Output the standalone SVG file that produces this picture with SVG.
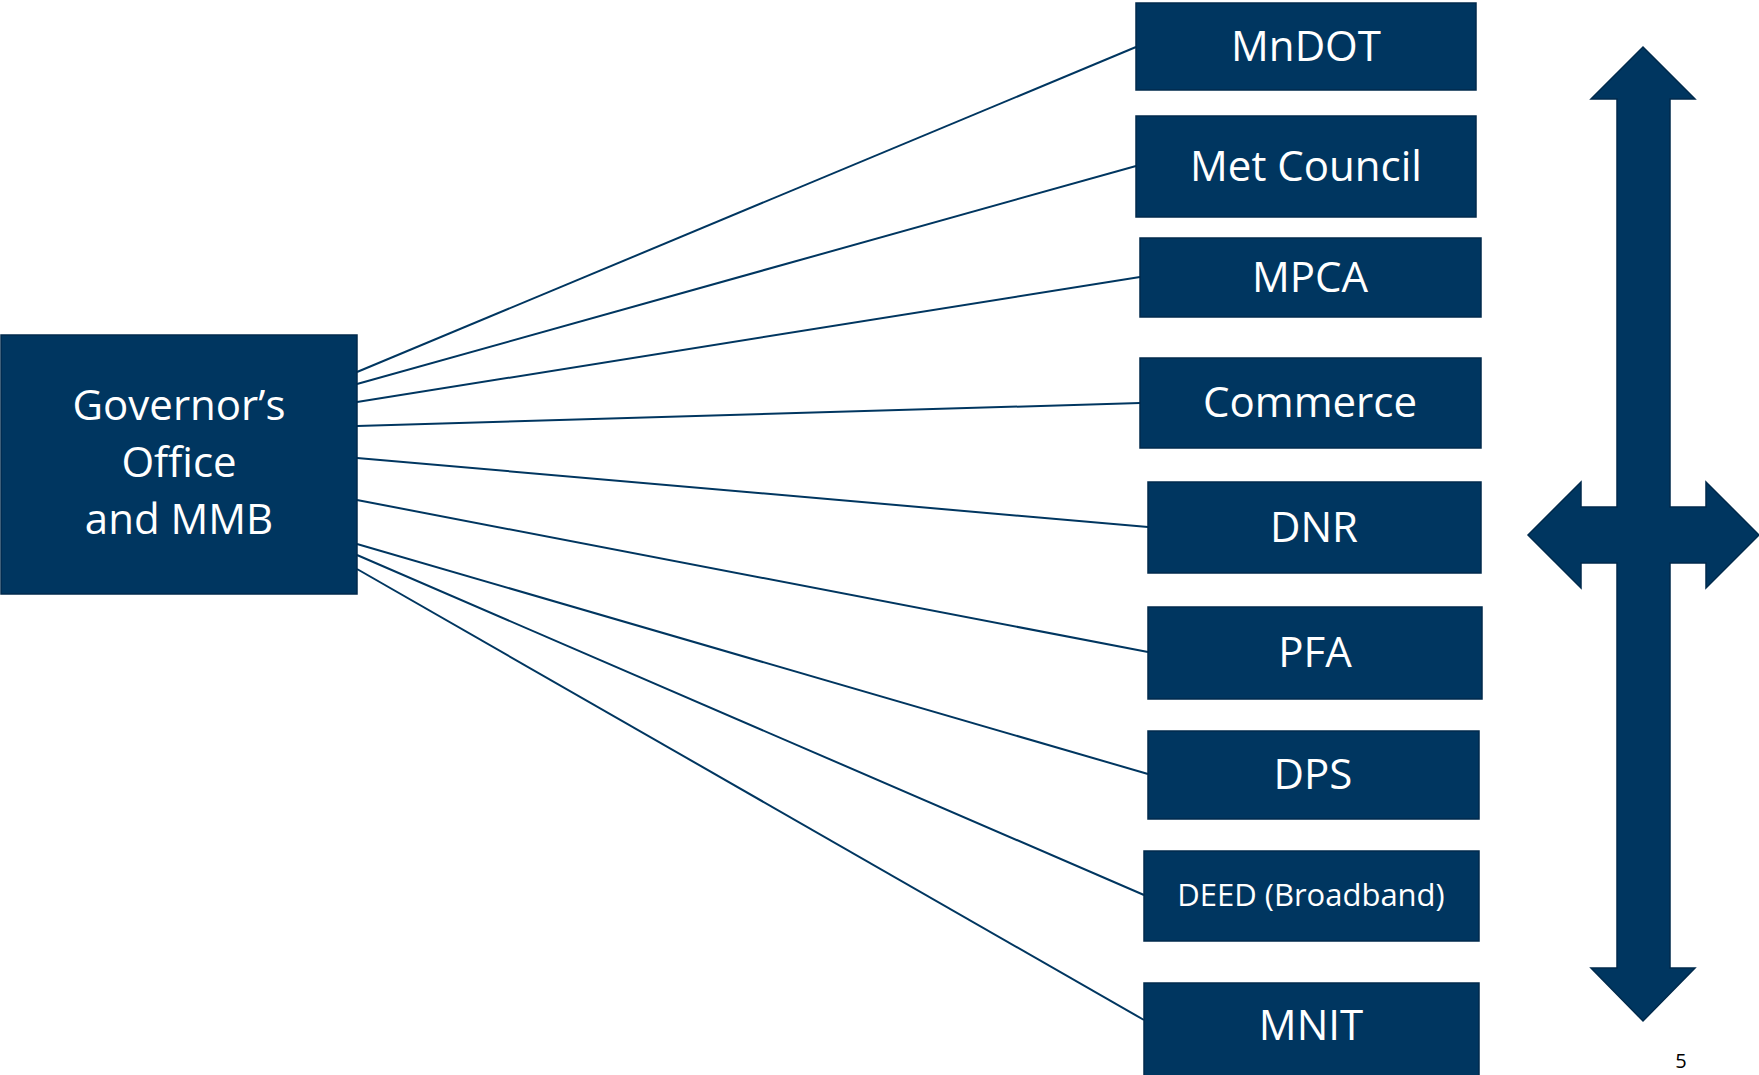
<svg xmlns="http://www.w3.org/2000/svg" width="1759" height="1075" viewBox="0 0 1759 1075">
<style>
.box{fill:#003660;stroke:#002a4c;stroke-width:1.5}
.lbl{fill:#ffffff;font-family:"Open Sans","Liberation Sans",sans-serif;font-size:42px;text-anchor:middle}
.sm{font-size:31px}
.conn line{stroke:#003660;stroke-width:2}
</style>
<rect width="1759" height="1075" fill="#ffffff"/>
<g class="conn" id="connectors">
<line x1="357" y1="372" x2="1136" y2="47"/>
<line x1="357" y1="384" x2="1136" y2="166"/>
<line x1="357" y1="402" x2="1140" y2="277"/>
<line x1="357" y1="426" x2="1140" y2="403"/>
<line x1="357" y1="458" x2="1148" y2="527"/>
<line x1="357" y1="500" x2="1148" y2="652"/>
<line x1="357" y1="544" x2="1148" y2="774"/>
<line x1="357" y1="555" x2="1144" y2="895"/>
<line x1="357" y1="569" x2="1144" y2="1020"/>
</g>
<g id="governor">
<rect class="box" x="1" y="335" width="356" height="259"/>
<text class="lbl" x="179" y="420">Governor’s</text>
<text class="lbl" x="179" y="477">Office</text>
<text class="lbl" x="179" y="534">and MMB</text>
</g>
<g id="mndot"><rect class="box" x="1136" y="3" width="340" height="87"/><text class="lbl" x="1306" y="61">MnDOT</text></g>
<g id="metcouncil"><rect class="box" x="1136" y="116" width="340" height="101"/><text class="lbl" x="1306" y="181">Met Council</text></g>
<g id="mpca"><rect class="box" x="1140" y="238" width="341" height="79"/><text class="lbl" x="1310" y="292">MPCA</text></g>
<g id="commerce"><rect class="box" x="1140" y="358" width="341" height="90"/><text class="lbl" x="1310" y="417">Commerce</text></g>
<g id="dnr"><rect class="box" x="1148" y="482" width="333" height="91"/><text class="lbl" x="1314" y="542">DNR</text></g>
<g id="pfa"><rect class="box" x="1148" y="607" width="334" height="92"/><text class="lbl" x="1315" y="667">PFA</text></g>
<g id="dps"><rect class="box" x="1148" y="731" width="331" height="88"/><text class="lbl" x="1313" y="789">DPS</text></g>
<g id="deed"><rect class="box" x="1144" y="851" width="335" height="90"/><text class="lbl sm" x="1311" y="906">DEED (Broadband)</text></g>
<g id="mnit"><rect class="box" x="1144" y="983" width="335" height="95"/><text class="lbl" x="1311" y="1040">MNIT</text></g>
<g id="arrow">
<path class="box" d="M1643,47 L1695,99 L1670,99 L1670,507 L1706,507 L1706,482 L1759,535 L1706,588 L1706,563 L1670,563 L1670,968 L1695,968 L1643,1021 L1591,968 L1617,968 L1617,563 L1581,563 L1581,588 L1528,535 L1581,482 L1581,507 L1617,507 L1617,99 L1591,99 Z"/>
</g>
<text x="1681" y="1068" font-family="Open Sans, Liberation Sans, sans-serif" font-size="20" fill="#000000" text-anchor="middle">5</text>
</svg>
